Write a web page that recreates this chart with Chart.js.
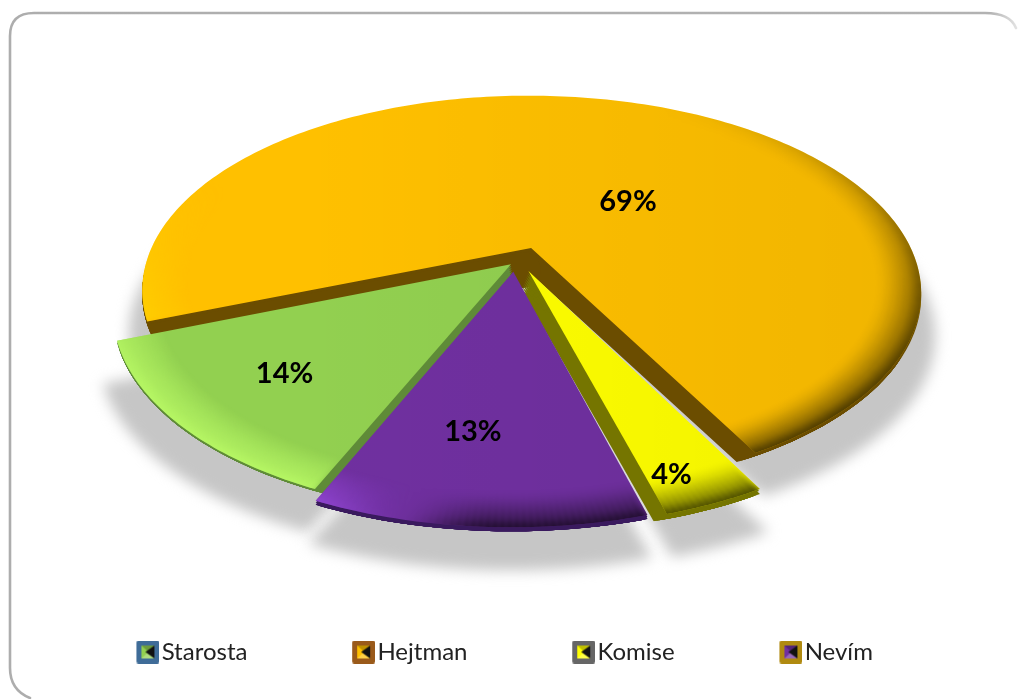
<!DOCTYPE html>
<html><head><meta charset="utf-8">
<style>html,body{margin:0;padding:0;background:#fff;overflow:hidden}#w{position:absolute;left:0;top:0;width:1020px;height:699px}</style>
<script src="https://cdn.jsdelivr.net/npm/chart.js@4"></script>
</head><body><div id="w"><canvas id="c" width="1020" height="699"></canvas></div>
<script>
const categories = ['Starosta','Hejtman','Komise','Nevím'];
const values = [14,69,4,13];
const valueLabels = ['14%','69%','4%','13%'];
const sliceColors = ['#92D050','#FFC000','#FFFF00','#7030A0'];
const brightColors = ['#B8F865','#FFD000','#FFFF40','#9448D8'];
const wallColors = ['#5F8B38','#6B4D00','#757500','#3A1A5E'];
const frameColors = ['#3F6C98','#9A5A1A','#666666','#B08A10'];

// view of the tilted disc
const VIEW = {cx:519.5, cy:262, a:386, b:192.6, p:0.2266, warp:0.17, rotation:207.9};
const explode = [0.02,0.08,0.052,0.05];
const sideShift = [-0.006,0,0,-0.012];
const wallDepth = 18, wallLean = [3,-9,-7,0], rimDepth = [2,3,5,4];
const labelR = [0.72,0.38,0.885,0.69], labelTurn = [0.5,17,3,4];
const rad = Math.PI/180;

function project(deg,r,ex){
  const t = deg*rad + VIEW.warp*Math.cos(deg*rad);
  const u = r*Math.cos(t)+ex.x, v = r*Math.sin(t)+ex.y, w = 1-VIEW.p*v;
  return {x:VIEW.cx+VIEW.a*u/w, y:VIEW.cy+VIEW.b*v/w};
}
function sliceInfo(arc,i){
  const s=arc.startAngle/rad, e=arc.endAngle/rad, m=(s+e)/2;
  return {s,e,m,i,ex:{x:explode[i]*Math.cos(m*rad)+sideShift[i],y:explode[i]*Math.sin(m*rad)}};
}
function tracePath(ctx,o,map){
  ctx.moveTo(...map(project(o.s,0,o.ex)));
  for(let d=o.s;d<o.e;d+=1) ctx.lineTo(...map(project(d,1,o.ex)));
  ctx.lineTo(...map(project(o.e,1,o.ex)));
  ctx.closePath();
}
const same=p=>[p.x,p.y];
const shift=(dx,h)=>p=>[p.x+dx,p.y+h];
function rimShade(deg){
  let d=((deg%360)+360)%360; if(d>270) d-=360;
  const ss=(a,b,x)=>{const t=Math.min(1,Math.max(0,(x-a)/(b-a)));return t*t*(3-2*t);};
  if(d<106) return {dark:true,k:0.58*ss(-75,40,d)*(1-ss(92,106,d))};
  return {dark:false,k:0.9*ss(104,122,d)*(1-ss(150,215,d))};
}
function hexRgb(h){return [1,3,5].map(i=>parseInt(h.substr(i,2),16)).join(',');}
function drawRim(ctx,o){
  const off=document.createElement('canvas'); off.width=1020; off.height=699;
  const g=off.getContext('2d');
  const bright=hexRgb(brightColors[o.i]);
  const widths=[1.03,0.99,0.98,0.97,0.955,0.94,0.925,0.91,0.895];
  for(let d=o.s;d<o.e;d+=1){
    const sh=rimShade(d+0.5);
    if(sh.k<=0) continue;
    for(let l=0;l<widths.length-1;l++){
      const f=1-l/(widths.length-1);
      g.fillStyle=`rgba(${sh.dark?'0,0,0':bright},${sh.k*(sh.dark?Math.pow(f,1.5):f)})`;
      const pts=[project(d,widths[l],o.ex),project(d+1.3,widths[l],o.ex),project(d+1.3,widths[l+1],o.ex),project(d,widths[l+1],o.ex)];
      g.beginPath(); g.moveTo(pts[0].x,pts[0].y); for(let q=1;q<4;q++) g.lineTo(pts[q].x,pts[q].y); g.closePath(); g.fill();
    }
  }
  ctx.save(); ctx.beginPath(); tracePath(ctx,o,same); ctx.clip();
  ctx.filter='blur(2px)'; ctx.drawImage(off,0,0); ctx.restore();
}
const pie3d = {
  id:'pie3d',
  beforeDraw(chart){
    const c=chart.ctx; c.save();
    c.lineWidth=2.6; c.lineCap='round';
    c.beginPath(); c.moveTo(30,698); c.quadraticCurveTo(10,690,10,668);
    c.lineTo(10,36); c.quadraticCurveTo(10,13,34,13); c.lineTo(985,13);
    c.strokeStyle=(()=>{const g=c.createLinearGradient(0,0,1020,0);g.addColorStop(0,'#adadad');g.addColorStop(.97,'#b2b2b2');g.addColorStop(1,'#e8e8e8');return g;})();
    c.quadraticCurveTo(1010,13,1016,28); c.stroke(); c.restore();
  },
  afterLayout(chart){
    const l=chart.legend; const dy=640-l.top-105.5;
    l.top+=dy; l.bottom+=dy; l.left-=5; l.right-=5;
  },
  beforeDatasetsDraw(chart){
    const ctx=chart.ctx, arcs=chart.getDatasetMeta(0).data;
    const info=arcs.map((a,i)=>sliceInfo(a,i));
    // cast shadow
    ctx.save(); ctx.filter='blur(7px)'; ctx.fillStyle='#c6c6c6';
    const shadow=p=>[VIEW.cx+(p.x-VIEW.cx)*1.035, p.y+43];
    info.forEach(o=>{ctx.beginPath();tracePath(ctx,o,shadow);ctx.fill();});
    ctx.restore();
    const order=[...info].sort((a,b)=>Math.sin(a.m*rad)-Math.sin(b.m*rad));
    order.forEach((o,n)=>{
      if(n===1){
        // dark hub where the pulled-apart slices meet
        const c0=project(0,0,{x:0,y:0});
        ctx.beginPath(); ctx.ellipse(c0.x+3,c0.y+8,18,18,0,0,Math.PI*2);
        ctx.fillStyle=wallColors[order[0].i]; ctx.fill();
      }
      // side wall: swept down from the top face, only as far as the disc's own outline
      ctx.save();
      ctx.beginPath();
      for(let d=0;d<360;d+=2){const p=project(d,1,o.ex); ctx.lineTo(p.x,p.y+rimDepth[o.i]);}
      ctx.closePath(); ctx.clip();
      ctx.fillStyle=wallColors[o.i];
      for(let t=1;t<=9;t++){
        ctx.beginPath(); tracePath(ctx,o,shift(wallLean[o.i]*t/9,wallDepth*t/9)); ctx.fill();
      }
      ctx.restore();
      ctx.beginPath(); tracePath(ctx,o,shift(0,rimDepth[o.i]));
      ctx.fillStyle=wallColors[o.i]; ctx.fill();
      // top surface
      ctx.beginPath(); tracePath(ctx,o,same);
      ctx.fillStyle=arcs[o.i].options.backgroundColor; ctx.fill();
      const g=ctx.createLinearGradient(300,0,924,0);
      g.addColorStop(0,'rgba(0,0,0,0)'); g.addColorStop(1,'rgba(0,0,0,0.06)');
      ctx.fillStyle=g; ctx.fill();
      drawRim(ctx,o);
    });
    return false;
  },
  afterDraw(chart){
    const ctx=chart.ctx, arcs=chart.getDatasetMeta(0).data;
    ctx.save(); ctx.font='bold 29px Lato'; ctx.fillStyle='#000'; ctx.textAlign='center'; ctx.textBaseline='middle';
    arcs.forEach((a,i)=>{
      const o=sliceInfo(a,i), p=project(o.m+labelTurn[i],labelR[i],o.ex);
      ctx.fillText(valueLabels[i],p.x,p.y);
    });
    ctx.restore();
  }
};
function marker(i){
  const m=document.createElement('canvas'); m.width=32; m.height=23;
  const c=m.getContext('2d'), X=9, S=23, f=frameColors[i], col=sliceColors[i];
  c.fillStyle=f; c.beginPath(); c.roundRect(X,0,S,S,2); c.fill();
  const a=X+5,b=X+18,t=5,d=18,mx=X+12,my=11.5;
  c.fillStyle=col; c.fillRect(a,t,13,13);
  c.fillStyle='rgba(255,255,255,0.28)'; c.beginPath(); c.moveTo(a,d);c.lineTo(b,d);c.lineTo(mx,my);c.closePath();c.fill();
  c.fillStyle='rgba(0,0,0,0.25)'; c.beginPath(); c.moveTo(a,t);c.lineTo(b,t);c.lineTo(mx,my);c.closePath();c.fill();
  c.fillStyle='#111'; c.beginPath(); c.moveTo(b,t);c.lineTo(b,d);c.lineTo(X+9,my);c.closePath();c.fill();
  return m;
}
new Chart(document.getElementById('c'),{
  type:'pie',
  data:{labels:categories,datasets:[{data:values,backgroundColor:sliceColors,borderWidth:0}]},
  options:{
    responsive:false,animation:false,rotation:VIEW.rotation,
    layout:{padding:{bottom:10}},
    plugins:{
      tooltip:{enabled:false},
      legend:{position:'bottom',labels:{
        usePointStyle:true,pointStyleWidth:12.5,padding:105.5,color:'#222',
        font:{family:'Lato',size:24},
        generateLabels:(ch)=>categories.map((t,i)=>({text:t,index:i,fontColor:'#222',pointStyle:marker(i),lineWidth:0,hidden:false}))
      }}
    }
  },
  plugins:[pie3d]
});
</script></body></html>
